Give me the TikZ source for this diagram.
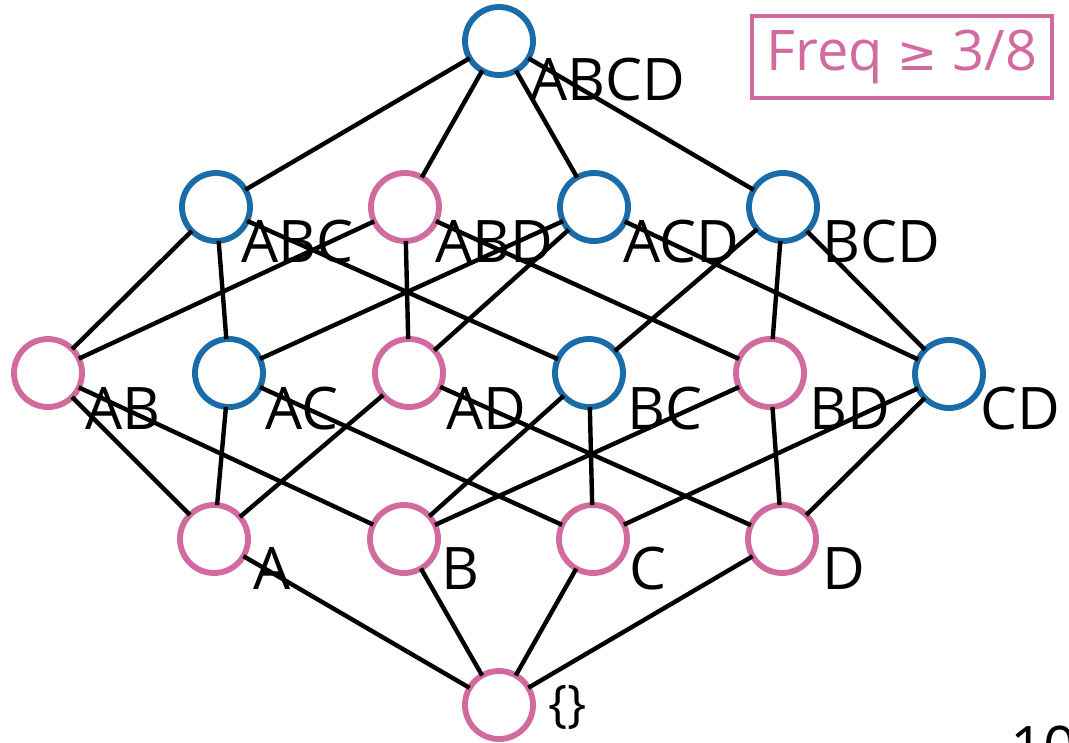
\documentclass[tikz,border=0pt]{standalone}
\usepackage{fontspec}
\setmainfont{Open Sans}
\newfontfamily\symfont{DejaVu Sans}
\definecolor{nblue}{HTML}{1A6CA8}
\definecolor{npink}{HTML}{D16B9F}
\begin{document}
\begin{tikzpicture}[x=0.75pt,y=-0.75pt,
  vtx/.style={circle,draw,line width=4.4pt,minimum size=51pt,inner sep=0pt,outer sep=0pt},
  freq/.style={vtx,draw=npink},
  infreq/.style={vtx,draw=nblue},
  lbl/.style={anchor=base west,inner sep=0pt,font=\fontsize{44}{50}\selectfont},
  edge/.style={line width=3.3pt,black}]
\useasboundingbox (0,0) rectangle (1069,742);
% vertices
\node[infreq] (ABCD) at (499,41) {};
\node[infreq] (ABC) at (216,207) {};
\node[freq]   (ABD) at (405,207) {};
\node[infreq] (ACD) at (594,207) {};
\node[infreq] (BCD) at (783,207) {};
\node[freq]   (AB)  at (48,373) {};
\node[infreq] (AC)  at (229,373) {};
\node[freq]   (AD)  at (409,373) {};
\node[infreq] (BC)  at (589,373) {};
\node[freq]   (BD)  at (770,373) {};
\node[infreq] (CD)  at (949,374) {};
\node[freq]   (A)   at (214,539) {};
\node[freq]   (B)   at (404,539) {};
\node[freq]   (C)   at (593,539) {};
\node[freq]   (D)   at (782,539) {};
\node[freq]   (E)   at (499,705) {};
% edges
\foreach \u/\v in {ABCD/ABC,ABCD/ABD,ABCD/ACD,ABCD/BCD,
  ABC/AB,ABC/AC,ABC/BC,ABD/AB,ABD/AD,ABD/BD,ACD/AC,ACD/AD,ACD/CD,BCD/BC,BCD/BD,BCD/CD,
  AB/A,AB/B,AC/A,AC/C,AD/A,AD/D,BC/B,BC/C,BD/B,BD/D,CD/C,CD/D,
  A/E,B/E,C/E,D/E}
  \draw[edge] (\u) -- (\v);
% labels
\node[lbl] (lABCD) at (530,100) {ABCD};
\node[lbl] (lABC) at (241,262) {ABC};
\node[lbl] (lABD) at (435,262) {ABD};
\node[lbl] (lACD) at (623,262) {ACD};
\node[lbl] (lBCD) at (822,262) {BCD};
\node[lbl] (lAB) at (85,429) {AB};
\node[lbl] (lAC) at (265,429) {AC};
\node[lbl] (lAD) at (446,429) {AD};
\node[lbl] (lBC) at (627,429) {BC};
\node[lbl] (lBD) at (809,429) {BD};
\node[lbl] (lCD) at (980,429) {CD};
\node[lbl] (lA) at (253,589) {A};
\node[lbl] (lB) at (441,589) {B};
\node[lbl] (lC) at (629,589) {C};
\node[lbl] (lD) at (822,589) {D};
\node[lbl,font=\fontsize{38}{44}\selectfont] (lE) at (548,721) {\{\}};
% legend
\node[draw=npink,line width=2.3pt,text=npink,minimum width=225pt,minimum height=61.5pt,inner sep=0pt,
  font=\fontsize{42}{48}\selectfont] (legend) at (902,57) {Freq {\symfont\fontsize{36}{44}\selectfont ≥} 3/8};
% page number
\node[lbl] (page) at (1010,768) {10};
\end{tikzpicture}
\end{document}
